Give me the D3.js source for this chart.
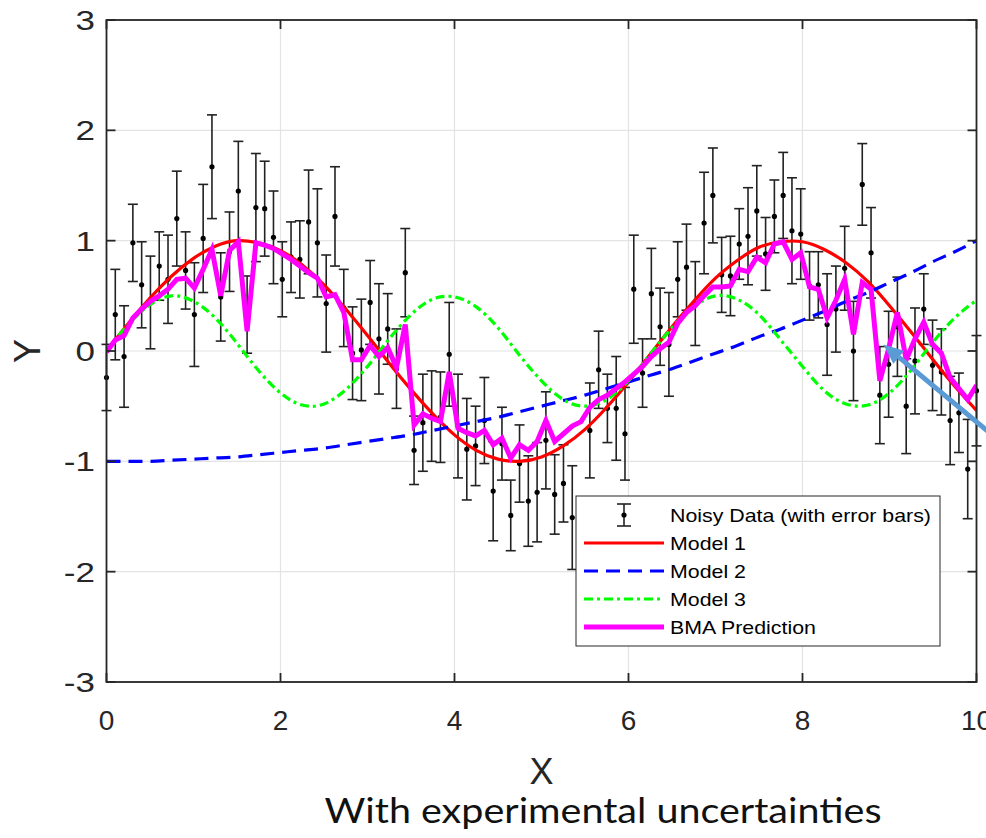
<!DOCTYPE html>
<html>
<head>
<meta charset="utf-8">
<script src="https://cdn.jsdelivr.net/npm/d3@7"></script>
<style>
  body { margin: 0; background: #fff; }
  text { font-family: "Liberation Sans", Arial, sans-serif; }
</style>
</head>
<body>
<div id="chart"></div>
<script>
// noisy observations (100 samples on 0..10), their error bars, and the BMA curve
var dataY = [-0.24, 0.33, -0.05, 0.98, 0.60, 0.44, 0.77, 0.65, 1.20, 0.73,
  0.33, 1.02, 1.67, 0.49, 0.90, 1.45, 0.33, 1.30, 1.29, 1.03,
  0.65, 0.85, 0.83, 1.17, 0.98, 0.43, 1.22, 0.39, -0.02, 0.01,
  0.44, 0.11, 0.20, -0.16, 0.71, -0.90, -0.65, -0.59, -0.60, -0.03,
  -0.68, -0.89, -0.86, -0.63, -1.27, -0.84, -1.49, -1.02, -1.36, -1.28,
  -0.81, -1.30, -1.20, -1.51, -1.75, -0.72, -0.17, -0.52, -0.52, -0.75,
  0.56, -0.20, 0.52, 0.22, 0.06, 0.65, 0.76, 0.43, 1.16, 1.41,
  0.69, 0.68, 0.97, 1.04, 1.27, 0.88, 1.22, 1.41, 1.09, 1.06,
  0.59, 0.60, 0.24, 0.38, 0.75, 0.00, 1.51, 0.89, -0.40, -0.12,
  0.22, -0.50, -0.09, 0.38, -0.13, -0.19, -0.63, -0.56, -1.07, -0.36];

var dataErr = [0.30, 0.41, 0.46, 0.35, 0.39, 0.42, 0.31, 0.40, 0.43, 0.35,
  0.47, 0.49, 0.47, 0.40, 0.36, 0.45, 0.35, 0.49, 0.43, 0.42,
  0.34, 0.32, 0.35, 0.47, 0.49, 0.44, 0.45, 0.35, 0.42, 0.46,
  0.38, 0.50, 0.32, 0.36, 0.40, 0.31, 0.44, 0.41, 0.41, 0.47,
  0.47, 0.46, 0.36, 0.39, 0.45, 0.33, 0.32, 0.35, 0.41, 0.45,
  0.44, 0.36, 0.35, 0.47, 0.40, 0.43, 0.35, 0.31, 0.47, 0.42,
  0.49, 0.31, 0.41, 0.35, 0.47, 0.34, 0.39, 0.38, 0.46, 0.43,
  0.34, 0.36, 0.32, 0.44, 0.41, 0.33, 0.33, 0.39, 0.48, 0.41,
  0.31, 0.30, 0.46, 0.39, 0.38, 0.45, 0.37, 0.41, 0.44, 0.48,
  0.45, 0.43, 0.48, 0.32, 0.41, 0.39, 0.40, 0.36, 0.45, 0.50];

var bmaY = [-0.01, 0.10, 0.14, 0.30, 0.38, 0.45, 0.50, 0.56, 0.65, 0.66,
  0.57, 0.74, 0.92, 0.50, 0.91, 0.99, 0.18, 0.98, 0.96, 0.93,
  0.88, 0.83, 0.77, 0.71, 0.66, 0.49, 0.51, 0.35, -0.08, -0.08,
  0.05, -0.05, 0.03, -0.15, 0.24, -0.67, -0.57, -0.61, -0.64, -0.19,
  -0.70, -0.74, -0.77, -0.72, -0.85, -0.79, -0.97, -0.85, -0.90, -0.82,
  -0.63, -0.82, -0.75, -0.68, -0.64, -0.51, -0.44, -0.40, -0.34, -0.28,
  -0.21, -0.14, -0.05, 0.02, 0.08, 0.25, 0.35, 0.41, 0.50, 0.58,
  0.58, 0.59, 0.74, 0.72, 0.85, 0.80, 0.97, 0.99, 0.83, 0.89,
  0.58, 0.56, 0.30, 0.46, 0.65, 0.15, 0.62, 0.56, -0.27, 0.02,
  0.35, -0.08, 0.11, 0.26, 0.06, -0.02, -0.24, -0.34, -0.44, -0.31];

// model curves read at x = 0, 0.25, ..., 10
var model1 = [0, 0.25, 0.48, 0.68, 0.84, 0.95, 1.00, 0.98, 0.91, 0.78,
  0.60, 0.38, 0.14, -0.11, -0.35, -0.57, -0.76, -0.90, -0.98, -1.00,
  -0.96, -0.86, -0.71, -0.51, -0.28, -0.03, 0.22, 0.45, 0.66, 0.82,
  0.94, 0.99, 0.99, 0.92, 0.80, 0.63, 0.41, 0.17, -0.08, -0.32, -0.54];
var model2 = [-1.00, -1.00, -1.00, -0.99, -0.98, -0.97, -0.96, -0.94, -0.92, -0.90,
  -0.88, -0.85, -0.82, -0.79, -0.76, -0.72, -0.68, -0.64, -0.60, -0.55,
  -0.50, -0.45, -0.40, -0.34, -0.28, -0.22, -0.16, -0.09, -0.02, 0.05,
  0.13, 0.20, 0.28, 0.36, 0.45, 0.53, 0.62, 0.71, 0.81, 0.90, 1.00];
var model3 = [0, 0.24, 0.42, 0.50, 0.45, 0.30, 0.07, -0.18, -0.38, -0.49,
  -0.48, -0.35, -0.14, 0.11, 0.33, 0.47, 0.49, 0.40, 0.21, -0.04,
  -0.27, -0.44, -0.50, -0.44, -0.27, -0.03, 0.21, 0.40, 0.50, 0.47,
  0.33, 0.10, -0.14, -0.36, -0.48, -0.49, -0.38, -0.17, 0.08, 0.30, 0.46];

var xTicks = [0, 2, 4, 6, 8, 10];
var yTicks = [-3, -2, -1, 0, 1, 2, 3];
var legendLabels = ["Noisy Data (with error bars)", "Model 1", "Model 2", "Model 3", "BMA Prediction"];

var dataX = d3.range(dataY.length).map(function (i) { return i * 10 / (dataY.length - 1); });
var modelX = d3.range(model1.length).map(function (i) { return i * 0.25; });

var width = 986, height = 838;
var svg = d3.select("#chart").append("svg")
  .attr("width", width)
  .attr("height", height)
  .style("display", "block");

var x = d3.scaleLinear().domain([0, 10]).range([106.5, 976.5]);
var y = d3.scaleLinear().domain([-3, 3]).range([682, 20]);
var axisColor = "#262626";

// grid
svg.append("g").selectAll("line.gx").data(xTicks).enter().append("line")
  .attr("x1", function (d) { return x(d); }).attr("x2", function (d) { return x(d); })
  .attr("y1", y(-3)).attr("y2", y(3))
  .style("stroke", "#e3e3e3").style("stroke-width", 1.2);
svg.append("g").selectAll("line.gy").data(yTicks).enter().append("line")
  .attr("x1", x(0)).attr("x2", x(10))
  .attr("y1", function (d) { return y(d); }).attr("y2", function (d) { return y(d); })
  .style("stroke", "#e3e3e3").style("stroke-width", 1.2);

// error bars
var eb = svg.append("g").style("stroke", "#222").style("stroke-width", 1.6);
dataY.forEach(function (v, i) {
  var cx = x(dataX[i]), lo = y(v - dataErr[i]), hi = y(v + dataErr[i]);
  eb.append("line").attr("x1", cx).attr("x2", cx).attr("y1", lo).attr("y2", hi);
  eb.append("line").attr("x1", cx - 5).attr("x2", cx + 5).attr("y1", lo).attr("y2", lo);
  eb.append("line").attr("x1", cx - 5).attr("x2", cx + 5).attr("y1", hi).attr("y2", hi);
});
svg.append("g").selectAll("circle").data(dataY).enter().append("circle")
  .attr("cx", function (d, i) { return x(dataX[i]); })
  .attr("cy", function (d) { return y(d); })
  .attr("r", 2.6)
  .style("fill", "#000");

// clip for the curves
svg.append("defs").append("clipPath").attr("id", "clip")
  .append("rect").attr("x", x(0)).attr("y", y(3))
  .attr("width", x(10) - x(0)).attr("height", y(-3) - y(3));

var smooth = d3.line()
  .x(function (d, i) { return x(modelX[i]); })
  .y(function (d) { return y(d); })
  .curve(d3.curveNatural);
var curves = svg.append("g").attr("clip-path", "url(#clip)");

curves.append("path").datum(model1).attr("d", smooth)
  .style("fill", "none").style("stroke", "#ff0000").style("stroke-width", 3.2);
curves.append("path").datum(model2).attr("d", smooth)
  .style("fill", "none").style("stroke", "#0000ff").style("stroke-width", 3.2)
  .style("stroke-dasharray", "14,8");
curves.append("path").datum(model3).attr("d", smooth)
  .style("fill", "none").style("stroke", "#00ff00").style("stroke-width", 3.2)
  .style("stroke-dasharray", "9,4,3,4");

var bmaLine = d3.line()
  .x(function (d, i) { return x(dataX[i]); })
  .y(function (d) { return y(d); });
curves.append("path").datum(bmaY).attr("d", bmaLine)
  .style("fill", "none").style("stroke", "#ff00ff").style("stroke-width", 5)
  .style("stroke-linejoin", "miter");

// axes box with inward ticks
var box = svg.append("g").style("stroke", axisColor).style("stroke-width", 1.8);
box.append("rect").attr("x", x(0)).attr("y", y(3))
  .attr("width", x(10) - x(0)).attr("height", y(-3) - y(3))
  .style("fill", "none");
xTicks.forEach(function (t) {
  box.append("line").attr("x1", x(t)).attr("x2", x(t)).attr("y1", y(-3)).attr("y2", y(-3) - 9);
  box.append("line").attr("x1", x(t)).attr("x2", x(t)).attr("y1", y(3)).attr("y2", y(3) + 9);
});
yTicks.forEach(function (t) {
  box.append("line").attr("x1", x(0)).attr("x2", x(0) + 9).attr("y1", y(t)).attr("y2", y(t));
  box.append("line").attr("x1", x(10)).attr("x2", x(10) - 9).attr("y1", y(t)).attr("y2", y(t));
});

svg.append("g").selectAll("text").data(xTicks).enter().append("text")
  .attr("x", function (d) { return x(d); })
  .attr("y", 730)
  .attr("text-anchor", "middle")
  .style("font-size", "28px").style("fill", axisColor)
  .text(function (d) { return d; });
svg.append("g").selectAll("text").data(yTicks).enter().append("text")
  .attr("transform", function (d) { return "translate(95," + (y(d) + 10) + ") scale(1.25,1)"; })
  .attr("text-anchor", "end")
  .style("font-size", "28px").style("fill", axisColor)
  .text(function (d) { return d; });

svg.append("text").attr("x", x(5)).attr("y", 784)
  .attr("text-anchor", "middle").style("font-size", "36px").style("fill", axisColor)
  .text("X");
svg.append("text").attr("transform", "translate(40," + y(0) + ") rotate(-90)")
  .attr("text-anchor", "middle").style("font-size", "36px").style("fill", axisColor)
  .text("Y");

svg.append("text").attr("x", 603).attr("y", 823)
  .attr("text-anchor", "middle")
  .attr("textLength", 557).attr("lengthAdjust", "spacingAndGlyphs")
  .style("font-family", "Lato, 'Open Sans', sans-serif")
  .style("font-size", "35px").style("fill", "#111")
  .text("With experimental uncertainties");

// legend
var lg = svg.append("g").attr("transform", "translate(576,496)");
lg.append("rect").attr("width", 364).attr("height", 150)
  .style("fill", "#fff").style("stroke", axisColor).style("stroke-width", 1);
var rowY = function (i) { return 19 + i * 28; };
var sx0 = 8, sx1 = 88, tx = 94;
// error bar icon
lg.append("line").attr("x1", 48).attr("x2", 48).attr("y1", rowY(0) - 11).attr("y2", rowY(0) + 11)
  .style("stroke", "#222").style("stroke-width", 1.6);
[-11, 11].forEach(function (o) {
  lg.append("line").attr("x1", 41).attr("x2", 55).attr("y1", rowY(0) + o).attr("y2", rowY(0) + o)
    .style("stroke", "#222").style("stroke-width", 1.6);
});
lg.append("circle").attr("cx", 48).attr("cy", rowY(0)).attr("r", 2.6).style("fill", "#000");
var samples = [
  {color: "#ff0000", w: 3.2, dash: null},
  {color: "#0000ff", w: 3.2, dash: "14,8"},
  {color: "#00ff00", w: 3.2, dash: "9,4,3,4"},
  {color: "#ff00ff", w: 5, dash: null}
];
samples.forEach(function (s, i) {
  lg.append("line").attr("x1", sx0).attr("x2", sx1).attr("y1", rowY(i + 1)).attr("y2", rowY(i + 1))
    .style("stroke", s.color).style("stroke-width", s.w)
    .style("stroke-dasharray", s.dash);
});
lg.selectAll("text.lab").data(legendLabels).enter().append("text")
  .attr("transform", function (d, i) { return "translate(" + tx + "," + (rowY(i) + 6.5) + ") scale(1.22,1)"; })
  .style("font-size", "17.5px").style("fill", "#000")
  .text(function (d) { return d; });

// annotation arrow
var tip = [8.93, 0.06], tail = [10.3, -0.84];
var px = x(tip[0]), py = y(tip[1]), qx = x(tail[0]), qy = y(tail[1]);
var ang = Math.atan2(py - qy, px - qx);
var hl = 20, hw = 8.5;
var bx = px - hl * Math.cos(ang), by = py - hl * Math.sin(ang);
svg.append("line").attr("x1", qx).attr("y1", qy).attr("x2", bx).attr("y2", by)
  .style("stroke", "#5b9bd5").style("stroke-width", 5);
svg.append("polygon")
  .attr("points", [[px, py],
    [bx + hw * Math.sin(ang), by - hw * Math.cos(ang)],
    [bx - hw * Math.sin(ang), by + hw * Math.cos(ang)]].map(function (p) { return p.join(","); }).join(" "))
  .style("fill", "#5b9bd5");
</script>
</body>
</html>
